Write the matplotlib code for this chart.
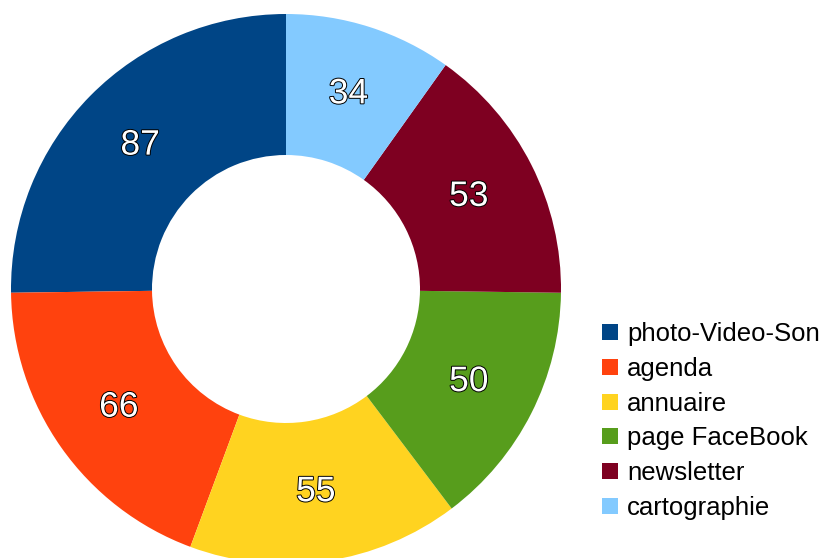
import matplotlib.pyplot as plt
import matplotlib.patheffects as pe
from matplotlib.lines import Line2D

plt.rcParams['font.family'] = ['Liberation Sans', 'DejaVu Sans']

categories = ['photo-Video-Son', 'agenda', 'annuaire', 'page FaceBook',
              'newsletter', 'cartographie']
values = [87, 66, 55, 50, 53, 34]
colors = ['#004586', '#ff420e', '#ffd320', '#579d1c', '#7e0021', '#83caff']

fig = plt.figure(figsize=(8.25, 5.58), dpi=100)
ax = fig.add_axes([0, 0, 1, 1])

wedges, texts = ax.pie(values, colors=colors, startangle=90, counterclock=True,
                       center=(286, 269), radius=275,
                       wedgeprops=dict(width=141, linewidth=0),
                       labels=[str(v) for v in values], labeldistance=0.745,
                       textprops=dict(color='white', fontsize=25.5,
                                      ha='center', va='center'))
for t in texts:
    t.set_path_effects([pe.withStroke(linewidth=1.4, foreground='black')])

# pie() resets the limits, so fix the pixel-like frame afterwards
ax.set_xlim(0, 825)
ax.set_ylim(0, 558)
ax.set_aspect('equal')
ax.axis('off')

handles = [Line2D([], [], marker='s', linestyle='none', markersize=11,
                  markerfacecolor=c, markeredgewidth=0) for c in colors]
fig.legend(handles, categories, loc='upper left',
           bbox_to_anchor=(591 / 825, 1 - 312 / 558), frameon=False,
           fontsize=18.5, handlelength=0.7, handletextpad=0.3,
           labelspacing=0.415, borderaxespad=0)

fig.savefig('out.png', dpi=100)
